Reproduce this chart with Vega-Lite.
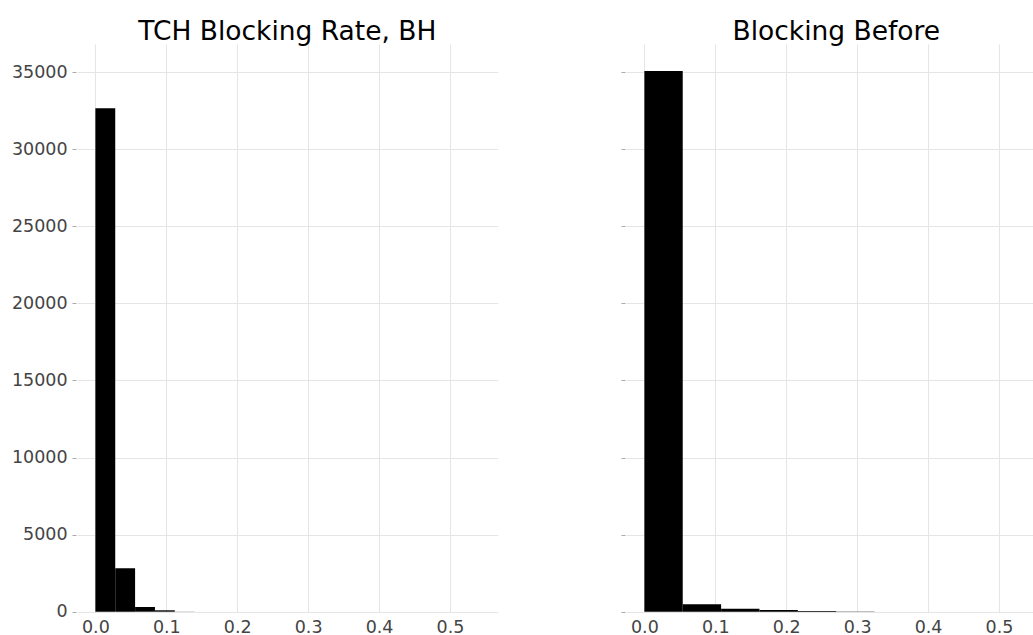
{
  "$schema": "https://vega.github.io/schema/vega-lite/v6.json",
  "background": "white",
  "padding": {"left": 11, "top": 19, "right": 0, "bottom": 0},
  "spacing": 122,
  "config": {
    "font": "DejaVu Sans",
    "view": {"stroke": null},
    "axis": {
      "domain": false,
      "gridColor": "#e5e5e5",
      "gridWidth": 1,
      "labelFont": "DejaVu Sans",
      "labelFontSize": 17.5,
      "labelColor": "#444444",
      "tickColor": "#aaaaaa",
      "title": null
    },
    "title": {"font": "DejaVu Sans", "fontSize": 26.5, "fontWeight": "normal", "color": "#000000", "baseline": "alphabetic", "offset": -2, "anchor": "middle", "frame": "group"}
  },
  "datasets": {
    "left": [
      {"bin_start": 0.0, "bin_end": 0.028, "count": 32646},
      {"bin_start": 0.028, "bin_end": 0.056, "count": 2815},
      {"bin_start": 0.056, "bin_end": 0.084, "count": 305},
      {"bin_start": 0.084, "bin_end": 0.112, "count": 90},
      {"bin_start": 0.112, "bin_end": 0.14, "count": 8},
      {"bin_start": 0.14, "bin_end": 0.168, "count": 4},
      {"bin_start": 0.168, "bin_end": 0.196, "count": 2},
      {"bin_start": 0.196, "bin_end": 0.224, "count": 1},
      {"bin_start": 0.224, "bin_end": 0.252, "count": 1},
      {"bin_start": 0.252, "bin_end": 0.28, "count": 1}
    ],
    "right": [
      {"bin_start": 0.0, "bin_end": 0.0541, "count": 35065},
      {"bin_start": 0.0541, "bin_end": 0.1082, "count": 480},
      {"bin_start": 0.1082, "bin_end": 0.1623, "count": 195},
      {"bin_start": 0.1623, "bin_end": 0.2164, "count": 110},
      {"bin_start": 0.2164, "bin_end": 0.2705, "count": 45},
      {"bin_start": 0.2705, "bin_end": 0.3246, "count": 8},
      {"bin_start": 0.3246, "bin_end": 0.3787, "count": 4},
      {"bin_start": 0.3787, "bin_end": 0.4328, "count": 2},
      {"bin_start": 0.4328, "bin_end": 0.4869, "count": 1},
      {"bin_start": 0.4869, "bin_end": 0.541, "count": 1}
    ]
  },
  "hconcat": [
    {
      "title": "TCH Blocking Rate, BH",
      "width": 420.7,
      "height": 567.7,
      "data": {"name": "left"},
      "mark": {"type": "bar", "orient": "vertical", "color": "#000000", "strokeWidth": 0},
      "encoding": {
        "x": {"field": "bin_start", "type": "quantitative", "scale": {"domain": [-0.0259, 0.5673], "nice": false, "zero": false, "padding": 0},
              "axis": {"values": [0, 0.1, 0.2, 0.3, 0.4, 0.5], "format": ".1f", "ticks": false, "labelPadding": 7, "labelFlush": false}},
        "x2": {"field": "bin_end"},
        "y": {"field": "count", "type": "quantitative", "scale": {"domain": [0, 36816], "nice": false, "padding": 0},
              "axis": {"values": [0, 5000, 10000, 15000, 20000, 25000, 30000, 35000], "format": "d", "tickSize": 4, "offset": 1, "labelPadding": 5, "labelFlush": false}},
        "y2": {"datum": 0}
      }
    },
    {
      "title": "Blocking Before",
      "width": 420.7,
      "height": 567.7,
      "data": {"name": "right"},
      "mark": {"type": "bar", "orient": "vertical", "color": "#000000", "strokeWidth": 0},
      "encoding": {
        "x": {"field": "bin_start", "type": "quantitative", "scale": {"domain": [-0.0259, 0.5673], "nice": false, "zero": false, "padding": 0},
              "axis": {"values": [0, 0.1, 0.2, 0.3, 0.4, 0.5], "format": ".1f", "ticks": false, "labelPadding": 7, "labelFlush": false}},
        "x2": {"field": "bin_end"},
        "y": {"field": "count", "type": "quantitative", "scale": {"domain": [0, 36816], "nice": false, "padding": 0},
              "axis": {"values": [0, 5000, 10000, 15000, 20000, 25000, 30000, 35000], "labels": false, "tickSize": 4, "offset": 1}},
        "y2": {"datum": 0}
      }
    }
  ]
}
